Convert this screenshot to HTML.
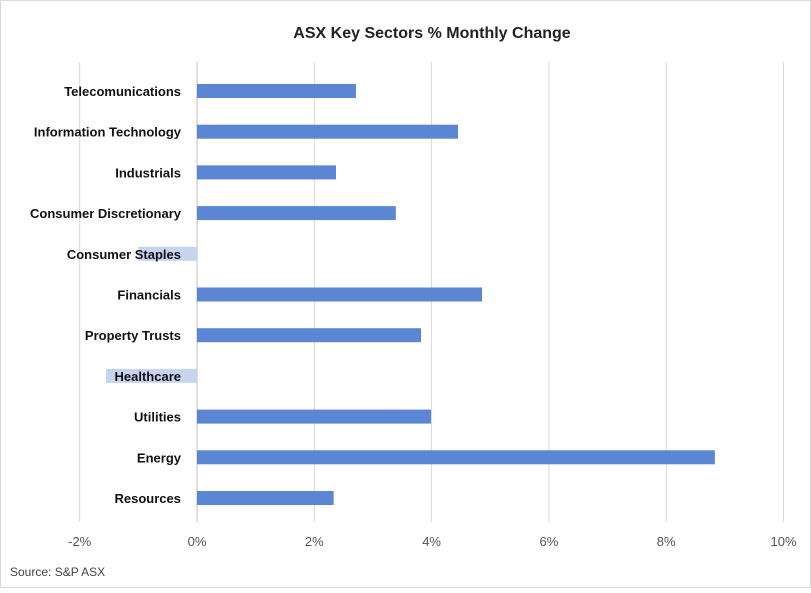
<!DOCTYPE html>
<html><head><meta charset="utf-8"><style>
body{margin:0;background:#fff;font-family:"Liberation Sans",Calibri,sans-serif;}
</style></head><body>
<svg id="chart" width="811" height="588" xmlns="http://www.w3.org/2000/svg" font-family="Liberation Sans, sans-serif">
<rect x="0.5" y="0.5" width="810" height="587" fill="#fff" stroke="#d9d9d9"/>
<text x="432" y="38" text-anchor="middle" font-size="16" font-weight="bold" fill="#222">ASX Key Sectors % Monthly Change</text>
<g id="grid"></g><g id="bars"></g><g id="labels"></g><g id="ticks"></g>
<text x="10" y="576" font-size="12" fill="#444">Source: S&amp;P ASX</text>
</svg>
<script>
const categories=["Telecomunications","Information Technology","Industrials","Consumer Discretionary","Consumer Staples","Financials","Property Trusts","Healthcare","Utilities","Energy","Resources"];
const values=[2.71,4.45,2.37,3.39,-1.0,4.86,3.82,-1.55,3.99,8.83,2.33];
const tickValues=[-2,0,2,4,6,8,10];
const tickLabels=["-2%","0%","2%","4%","6%","8%","10%"];
const ns="http://www.w3.org/2000/svg";
const x0=197,pxPer=58.65,yTop=91,step=40.7,barH=14;
const xs=v=>x0+v*pxPer;
const ys=i=>yTop+i*step;
function mk(t,a,p){const e=document.createElementNS(ns,t);for(const k in a)e.setAttribute(k,a[k]);document.getElementById(p).appendChild(e);return e;}
tickValues.forEach((v,i)=>{
 const l=mk("line",{x1:xs(v),x2:xs(v),y1:62,y2:522,stroke:v===0?"#bfbfbf":"#d9d9d9","stroke-width":1},"grid");
 
 
 const t=mk("text",{x:xs(v),y:546,"text-anchor":"middle","font-size":13,fill:"#555"},"ticks");
 t.textContent=tickLabels[i];
 
 
});
values.forEach((v,i)=>{
 const a=xs(Math.min(0,v)),b=xs(Math.max(0,v));
 const r=mk("rect",{x:a,y:ys(i)-barH/2,width:b-a,height:barH,fill:v<0?"#c6d4ef":"#5b86d4"},"bars");
 
 
 const t=mk("text",{x:181,y:ys(i)+5,"text-anchor":"end","font-size":13,"font-weight":"bold",fill:"#111"},"labels");
 t.textContent=categories[i];
 
 
});
</script>
</body></html>
